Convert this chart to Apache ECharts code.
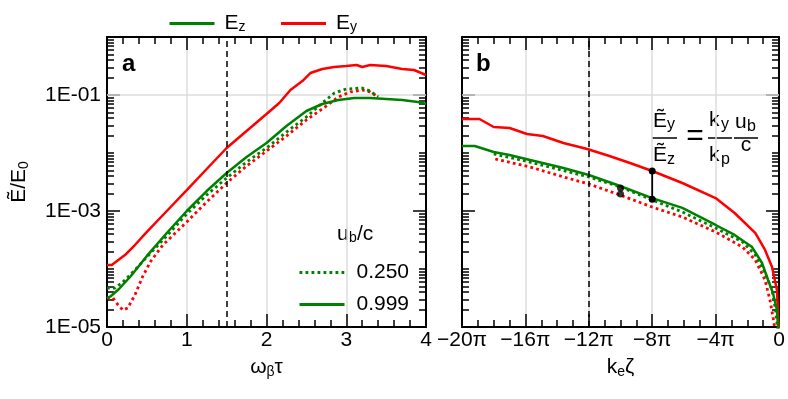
<!DOCTYPE html>
<html>
<head>
<meta charset="utf-8">
<script src="https://cdn.jsdelivr.net/npm/echarts@6/dist/echarts.min.js"></script>
<style>
  html, body { margin: 0; padding: 0; background: #fff; }
  #chart { width: 788px; height: 399px; }
</style>
</head>
<body>
<div id="chart"></div>
<script>
var chart = echarts.init(document.getElementById('chart'));

var BLACK = '#000', GREEN = '#008000', RED = '#ff0000', GRIDC = '#dcdcdc';
var FONT = 'Liberation Sans, Arial, sans-serif';

// ---- panel a : amplitude vs omega_beta * tau ----
var tauEy999 = [0, 0.06, 0.125, 0.225, 0.35, 0.5, 0.75, 1, 1.25, 1.5, 1.75, 2, 2.16, 2.3, 2.45, 2.55, 2.7, 2.85, 3, 3.13, 3.2, 3.3, 3.5, 3.7, 3.85, 4];
var ey999A = [1.17e-4, 1.17e-4, 1.37e-4, 1.74e-4, 2.59e-4, 4.35e-4, 1.0e-3, 2.30e-3, 5.30e-3, 1.22e-2, 2.39e-2, 4.70e-2, 7.28e-2, 0.122, 0.174, 0.239, 0.281, 0.304, 0.316, 0.329, 0.304, 0.329, 0.316, 0.281, 0.270, 0.221];

var tauEz999 = [0, 0.05, 0.15, 0.3, 0.5, 0.75, 1, 1.25, 1.5, 1.75, 2, 2.25, 2.5, 2.7, 2.9, 3.1, 3.3, 3.5, 3.7, 3.9, 4];
var ez999A = [3.16e-5, 3.42e-5, 4.52e-5, 7.57e-5, 1.68e-4, 4.18e-4, 1.0e-3, 2.21e-3, 4.52e-3, 8.53e-3, 1.49e-2, 2.92e-2, 5.30e-2, 7.00e-2, 8.20e-2, 8.87e-2, 8.87e-2, 8.53e-2, 8.20e-2, 7.57e-2, 7.00e-2];

var tauEz250 = [0, 0.1, 0.2, 0.35, 0.5, 0.75, 1, 1.25, 1.5, 1.75, 2, 2.25, 2.5, 2.7, 2.85, 3, 3.2, 3.3, 3.4];
var ez250A = [4.70e-5, 4.70e-5, 5.97e-5, 9.61e-5, 1.61e-4, 3.71e-4, 8.87e-4, 1.89e-3, 3.71e-3, 7.00e-3, 1.22e-2, 2.30e-2, 4.18e-2, 7.28e-2, 0.108, 0.127, 0.132, 0.117, 9.24e-2];

var tauEy250 = [0, 0.075, 0.14, 0.2, 0.26, 0.35, 0.45, 0.55, 0.7, 1, 1.25, 1.5, 1.75, 2, 2.25, 2.5, 2.75, 2.9, 3.05, 3.2, 3.3, 3.4];
var ey250A = [3.16e-5, 3.16e-5, 2.39e-5, 1.96e-5, 2.13e-5, 3.56e-5, 7.57e-5, 1.37e-4, 2.59e-4, 6.46e-4, 1.43e-3, 3.04e-3, 5.97e-3, 1.08e-2, 1.96e-2, 3.71e-2, 6.46e-2, 9.24e-2, 0.113, 0.122, 0.113, 9.24e-2];

// ---- panel b : amplitude vs k_e * zeta (in units of pi) ----
var zetaEy999 = [-20, -18.9, -18, -17, -15.9, -14.9, -13.6, -12.1, -10.7, -9.4, -8, -6.1, -4, -2.8, -1.5, -0.88, -0.44, -0.13, -0.06, 0];
var ey999B = [3.86e-2, 3.86e-2, 2.81e-2, 2.70e-2, 2.13e-2, 1.96e-2, 1.49e-2, 1.17e-2, 8.87e-3, 6.73e-3, 4.90e-3, 3.04e-3, 1.67e-3, 9.24e-4, 4.18e-4, 2.13e-4, 1.08e-4, 4.35e-5, 1.74e-5, 8.0e-6];

var zetaEz999 = [-20, -19.2, -18, -17, -15.7, -13.6, -12, -10.2, -8, -6.1, -4, -2.8, -1.7, -1.07, -0.69, -0.38, -0.13, -0.06, 0];
var ez999B = [1.32e-2, 1.32e-2, 1.04e-2, 9.24e-3, 7.57e-3, 5.51e-3, 4.18e-3, 2.81e-3, 1.67e-3, 1.13e-3, 5.74e-4, 3.86e-4, 2.39e-4, 1.27e-4, 6.46e-5, 3.86e-5, 1.96e-5, 1.0e-5, 8.0e-6];

var zetaEz250 = [-18, -16, -14, -12, -10, -8, -6.1, -4, -2.3, -1.5, -0.88, -0.44, -0.25, -0.13, -0.06];
var ez250B = [9.61e-3, 7.28e-3, 5.30e-3, 3.86e-3, 2.59e-3, 1.55e-3, 9.61e-4, 5.09e-4, 2.92e-4, 1.74e-4, 8.53e-5, 4.35e-5, 2.21e-5, 1.22e-5, 8.0e-6];

var zetaEy250 = [-17.9, -15.7, -13.6, -12, -10.2, -8, -6.1, -4, -2.3, -1.5, -0.88, -0.57, -0.38, -0.25];
var ey250B = [7.88e-3, 5.74e-3, 3.86e-3, 2.92e-3, 1.96e-3, 1.17e-3, 7.88e-4, 4.35e-4, 2.39e-4, 1.43e-4, 6.46e-5, 2.92e-5, 1.49e-5, 8.9e-6];

// ratio check markers in panel b
var ratioZeta = [-8, -8];
var ratioVal = [4.90e-3, 1.59e-3];
var checkZeta = [-10, -10];
var checkVal = [2.49e-3, 1.96e-3];

var tauMark = 1.5;
var zetaMark = -12;

// ---- axes helpers ----
var majorY = [1e-5, 1e-3, 1e-1];
// tick marks are drawn on linear helper axes that run over the decade exponent
var majorExp = [-3, -1];
var minorExp = [];
for (var d = -5; d < 0; d++) {
    for (var k = 2; k <= 9; k++) minorExp.push(d + Math.log10(k));
    if (d === -4 || d === -2) minorExp.push(d);
}

function logLabel(v) {
    var e = Math.round(Math.log10(v));
    var a = Math.abs(e);
    return '1E' + (e < 0 ? '-' : '+') + (a < 10 ? '0' : '') + a;
}

function piLabel(v) {
    return v === 0 ? '0' : '\u2212' + Math.abs(v) + '\u03c0';
}

function richSub(main, sub, pad) {
    return {
        m: { fontSize: main, fontFamily: FONT, color: BLACK },
        s: { fontSize: sub, fontFamily: FONT, color: BLACK, padding: [pad, 0, 0, 0] }
    };
}

function tickAxis(grid, side, values, len, line) {
    return {
        type: 'value', gridIndex: grid, position: side, min: -5, max: 0,
        axisLine: { show: line, onZero: false, lineStyle: { color: BLACK, width: 2 } },
        axisTick: { show: true, inside: true, length: len, customValues: values, lineStyle: { color: BLACK, width: 1.5 } },
        axisLabel: { show: false },
        splitLine: { show: false }
    };
}

function yAxes(grid, labels) {
    var main = {
        type: 'log', logBase: 10, gridIndex: grid, position: 'left', min: 1e-5, max: 1,
        axisLine: { show: true, onZero: false, lineStyle: { color: BLACK, width: 2 } },
        axisTick: { show: false },
        axisLabel: { show: labels, customValues: majorY, formatter: logLabel, fontSize: 21, fontFamily: FONT, color: BLACK, margin: 6 },
        splitLine: { show: false }
    };
    return [
        main,
        tickAxis(grid, 'left', majorExp, 13, false),
        tickAxis(grid, 'left', minorExp, 7, false),
        tickAxis(grid, 'right', majorExp, 13, true),
        tickAxis(grid, 'right', minorExp, 7, false)
    ];
}

function xAxes(grid, min, max, step, minorSplit, fmt, name) {
    var bottom = {
        type: 'value', gridIndex: grid, position: 'bottom', min: min, max: max, interval: step,
        axisLine: { show: true, onZero: false, lineStyle: { color: BLACK, width: 2 } },
        axisTick: { show: true, inside: true, length: 13, lineStyle: { color: BLACK, width: 1.5 } },
        minorTick: { show: true, splitNumber: minorSplit, length: 7, lineStyle: { color: BLACK, width: 1.5 } },
        splitLine: { show: true, lineStyle: { color: GRIDC, width: 1.5 } },
        axisLabel: { formatter: fmt, fontSize: 21, fontFamily: FONT, color: BLACK, margin: 3 },
        name: name, nameLocation: 'middle', nameGap: 28,
        nameTextStyle: { rich: richSub(21, 14, 10) }
    };
    var top = {
        type: 'value', gridIndex: grid, position: 'top', min: min, max: max, interval: step,
        axisLine: { show: true, onZero: false, lineStyle: { color: BLACK, width: 2 } },
        axisTick: { show: true, inside: true, length: 13, lineStyle: { color: BLACK, width: 1.5 } },
        minorTick: { show: true, splitNumber: minorSplit, length: 7, lineStyle: { color: BLACK, width: 1.5 } },
        splitLine: { show: false },
        axisLabel: { show: false }
    };
    return [bottom, top];
}

function pairs(xs, ys) {
    return xs.map(function (x, i) { return [x, ys[i]]; });
}

function curve(name, xs, ys, color, dotted, panel) {
    return {
        type: 'line', name: name,
        xAxisIndex: panel * 2, yAxisIndex: panel * 5,
        data: pairs(xs, ys),
        symbol: 'none', clip: true, z: dotted ? 3 : 4,
        lineStyle: { color: color, width: dotted ? 2.8 : 2.5, type: dotted ? [2.8, 3.2] : 'solid', cap: 'butt' },
        itemStyle: { color: color },
        emphasis: { disabled: true },
        animation: false
    };
}

function guides(panel) {
    var gray = { color: GRIDC, width: 1.5, type: 'solid' };
    return {
        type: 'line', name: 'guide' + panel,
        xAxisIndex: panel * 2, yAxisIndex: panel * 5,
        data: [], symbol: 'none', z: 1,
        markLine: {
            silent: true, symbol: ['none', 'none'], label: { show: false }, animation: false, z: 1,
            data: [
                { yAxis: 0.1, lineStyle: gray },
                { yAxis: 0.001, lineStyle: gray }
            ]
        }
    };
}

function dashed(panel, xVal) {
    return {
        type: 'line', name: 'dash' + panel,
        xAxisIndex: panel * 2, yAxisIndex: panel * 5,
        data: [], symbol: 'none', z: 5,
        markLine: {
            silent: true, symbol: ['none', 'none'], label: { show: false }, animation: false, z: 5,
            data: [{ xAxis: xVal, lineStyle: { color: BLACK, width: 1.5, type: [6, 4] } }]
        }
    };
}

function txt(s, x, y, size, align, weight) {
    return {
        type: 'text', x: x, y: y, silent: true,
        style: {
            text: s, fill: BLACK,
            font: (weight || 'normal') + ' ' + size + 'px ' + FONT,
            align: align || 'left', verticalAlign: 'middle'
        }
    };
}

function bar(x1, x2, y) {
    return {
        type: 'line', silent: true,
        shape: { x1: x1, y1: y, x2: x2, y2: y },
        style: { stroke: BLACK, lineWidth: 1.5 }
    };
}

var yList = [].concat(yAxes(0, true), yAxes(1, false));
yList[0].name = '{m|\u1ebc/E}{s|0}';
yList[0].nameLocation = 'middle';
yList[0].nameGap = 76;
yList[0].nameTextStyle = { rich: richSub(21, 14, 10) };

var option = {
    backgroundColor: '#fff',
    animation: false,
    textStyle: { fontFamily: FONT },
    grid: [
        { left: 107, top: 37, width: 319, height: 290, outerBoundsMode: 'none' },
        { left: 462, top: 37, width: 317, height: 290, outerBoundsMode: 'none' }
    ],
    xAxis: [].concat(
        xAxes(0, 0, 4, 1, 5, null, '{m|\u03c9}{s|\u03b2}{m|\u03c4}'),
        xAxes(1, -20, 0, 4, 4, piLabel, '{m|k}{s|e}{m|\u03b6}')
    ),
    yAxis: yList,
    legend: [
        {
            data: ['Ez', 'Ey'], left: 163, top: 8, itemWidth: 45, itemHeight: 14, itemGap: 34,
            selectedMode: false, itemStyle: { opacity: 0 }, lineStyle: { width: 3 },
            formatter: function (n) { return n === 'Ez' ? '{m|E}{s|z}' : '{m|E}{s|y}'; },
            textStyle: { padding: [0, 0, 0, 5], rich: richSub(21, 14, 8) }
        },
        {
            data: ['0.250', '0.999'], orient: 'vertical', left: 293, top: 257,
            itemWidth: 45, itemHeight: 14, itemGap: 11,
            selectedMode: false, itemStyle: { opacity: 0 }, lineStyle: { width: 3 },
            textStyle: { fontSize: 21, fontFamily: FONT, color: BLACK, padding: [0, 0, 0, 7] }
        }
    ],
    series: [
        guides(0),
        guides(1),
        curve('Ey250a', tauEy250, ey250A, RED, true, 0),
        curve('Ez250a', tauEz250, ez250A, GREEN, true, 0),
        curve('Ey', tauEy999, ey999A, RED, false, 0),
        curve('Ez', tauEz999, ez999A, GREEN, false, 0),
        curve('Ey250b', zetaEy250, ey250B, RED, true, 1),
        curve('Ez250b', zetaEz250, ez250B, GREEN, true, 1),
        curve('Ey', zetaEy999, ey999B, RED, false, 1),
        curve('Ez', zetaEz999, ez999B, GREEN, false, 1),
        curve('0.250', [], [], GREEN, true, 0),
        curve('0.999', [], [], GREEN, false, 0),
        dashed(0, tauMark),
        dashed(1, zetaMark),
        {
            type: 'line', name: 'ratio', xAxisIndex: 2, yAxisIndex: 5,
            data: pairs(ratioZeta, ratioVal), symbol: 'circle', symbolSize: 7, showSymbol: true,
            lineStyle: { color: BLACK, width: 1.8 }, itemStyle: { color: BLACK }, z: 6
        },
        {
            type: 'scatter', name: 'check', xAxisIndex: 2, yAxisIndex: 5,
            data: pairs(checkZeta, checkVal), symbolSize: 7,
            itemStyle: { color: BLACK }, z: 6
        }
    ],
    graphic: [
        txt('a', 122, 64, 24, 'left', 'bold'),
        txt('b', 476, 64, 24, 'left', 'bold'),
        // u_b / c legend title
        txt('u', 337, 234.6, 21),
        txt('b', 349, 238, 14),
        txt('/c', 357, 234.6, 21),
        // formula  E~y / E~z = (ky/kp)(ub/c)
        txt('\u1ebc', 653, 121.6, 21),
        txt('y', 667, 124.7, 16),
        bar(652, 677, 138),
        txt('\u1ebc', 653, 155.6, 21),
        txt('z', 667, 159.7, 16),
        txt('=', 695, 137, 30, 'center'),
        txt('k', 709, 120.6, 21),
        txt('y', 721, 124.7, 16),
        bar(708, 732, 138),
        txt('k', 709, 155.6, 21),
        txt('p', 721, 159.7, 16),
        txt('u', 735, 122.6, 21),
        txt('b', 747, 126.4, 16),
        bar(734, 758, 138),
        txt('c', 746, 145.6, 21, 'center')
    ]
};

chart.setOption(option);
</script>
</body>
</html>
